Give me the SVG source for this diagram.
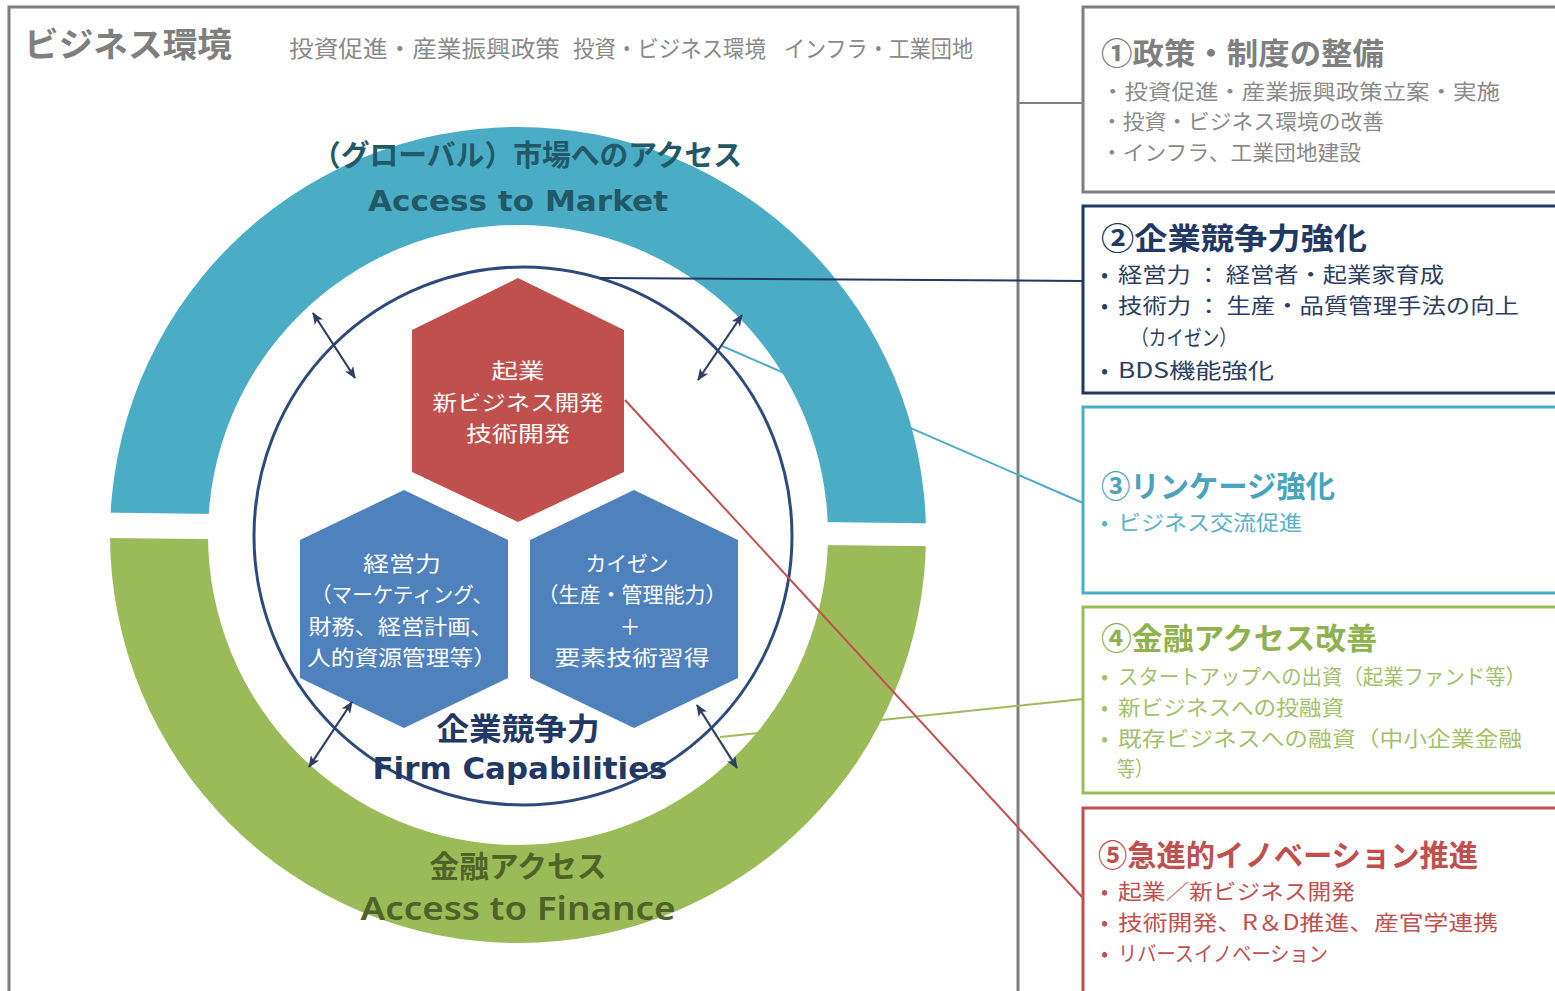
<svg xmlns="http://www.w3.org/2000/svg" width="1555" height="991" viewBox="0 0 1555 991">
<style>
.jp{font-family:"Noto Sans CJK JP","Noto Sans",sans-serif}
.b{font-weight:bold}
.hx{font-family:"Noto Sans CJK JP",sans-serif;font-size:21px;fill:#ffffff;text-anchor:middle}
.mid{text-anchor:middle}
.conn{fill:none;stroke-width:2}
.arr{fill:none;stroke:#2f3f5f;stroke-width:2.2;marker-start:url(#ah);marker-end:url(#ah)}
.box{fill:#ffffff;stroke-width:3}
.t1{font-family:"Noto Sans CJK JP",sans-serif;font-size:21px}
</style>
<defs>
<marker id="ah" viewBox="0 0 12 10" markerWidth="12" markerHeight="10" refX="11" refY="5" orient="auto-start-reverse" markerUnits="userSpaceOnUse">
<path d="M0,0 L12,5 L0,10 L3,5 z" fill="#2f3f5f"/>
</marker>
<clipPath id="clipTop"><polygon points="0,0 1100,0 1100,525.6 0,511.2"/></clipPath>
<clipPath id="clipBot"><polygon points="0,536.9 1100,547.7 1100,1000 0,1000"/></clipPath>
<path id="ring" d="M110 535 A408 408 0 1 0 926 535 A408 408 0 1 0 110 535 Z M208 535 A310 310 0 1 0 828 535 A310 310 0 1 0 208 535 Z" fill-rule="evenodd"/>
</defs>
<rect width="1555" height="991" fill="#ffffff"/>

<g id="business-environment">
<rect x="9" y="7" width="1009" height="1000" fill="#ffffff" stroke="#7f7f7f" stroke-width="3"/>
<text x="24" y="57" class="jp b" font-size="34" fill="#7f7f7f" textLength="208" lengthAdjust="spacingAndGlyphs">ビジネス環境</text>
<text x="289" y="57" class="jp" font-size="23" fill="#8a8a8a" textLength="271" lengthAdjust="spacingAndGlyphs">投資促進・産業振興政策</text>
<text x="573" y="57" class="jp" font-size="23" fill="#8a8a8a" textLength="193" lengthAdjust="spacingAndGlyphs">投資・ビジネス環境</text>
<text x="784" y="57" class="jp" font-size="23" fill="#8a8a8a" textLength="189" lengthAdjust="spacingAndGlyphs">インフラ・工業団地</text>
</g>

<g id="connectors-under">
<line class="conn" x1="722" y1="346" x2="1083" y2="503" stroke="#4bacc6"/>
<line class="conn" x1="720" y1="737" x2="1083" y2="699" stroke="#9bbb59"/>
</g>

<g id="market-ring">
<use href="#ring" fill="#4bacc6" clip-path="url(#clipTop)"/>
</g>
<g id="finance-ring">
<use href="#ring" fill="#9bbb59" clip-path="url(#clipBot)"/>
</g>

<g id="firm-circle">
<circle cx="523" cy="536" r="269" fill="none" stroke="#2e4a7c" stroke-width="3"/>
</g>

<g id="hex-innovation">
<polygon points="518,278 624,330 624,472 518,522 412,472 412,330" fill="#c0504d"/>
<text class="hx" x="518" y="378" textLength="53" lengthAdjust="spacingAndGlyphs">起業</text>
<text class="hx" x="518" y="410" textLength="171" lengthAdjust="spacingAndGlyphs">新ビジネス開発</text>
<text class="hx" x="518" y="441" textLength="104" lengthAdjust="spacingAndGlyphs">技術開発</text>
</g>

<g id="hex-management">
<polygon points="404,490 508,540 508,678 404,728 300,678 300,540" fill="#4f81bd"/>
<text class="hx" x="402" y="571" textLength="78" lengthAdjust="spacingAndGlyphs">経営力</text>
<text class="hx" x="402" y="602" textLength="182" lengthAdjust="spacingAndGlyphs">（マーケティング、</text>
<text class="hx" x="401" y="634" textLength="185" lengthAdjust="spacingAndGlyphs">財務、経営計画、</text>
<text class="hx" x="402" y="665" textLength="190" lengthAdjust="spacingAndGlyphs">人的資源管理等）</text>
</g>

<g id="hex-kaizen">
<polygon points="634,490 738,540 738,678 634,728 530,678 530,540" fill="#4f81bd"/>
<text class="hx" x="627" y="571" textLength="83" lengthAdjust="spacingAndGlyphs">カイゼン</text>
<text class="hx" x="632" y="602" textLength="189" lengthAdjust="spacingAndGlyphs">（生産・管理能力）</text>
<text class="hx" x="630" y="634">＋</text>
<text class="hx" x="632" y="665" textLength="155" lengthAdjust="spacingAndGlyphs">要素技術習得</text>
</g>

<g id="connectors">
<line class="conn" x1="1018" y1="103" x2="1083" y2="103" stroke="#7f7f7f"/>
<line class="conn" x1="600" y1="278" x2="1083" y2="281" stroke="#1f3864"/>
<line class="conn" x1="625" y1="400" x2="1083" y2="898" stroke="#c0504d"/>
<line class="arr" x1="313" y1="313" x2="355" y2="378"/>
<line class="arr" x1="742" y1="315" x2="698" y2="380"/>
<line class="arr" x1="352" y1="702" x2="309" y2="767"/>
<line class="arr" x1="697" y1="705" x2="737" y2="768"/>
</g>

<g id="ring-labels">
<text x="527" y="166" class="jp b mid" font-size="29" fill="#215968" textLength="430" lengthAdjust="spacingAndGlyphs">（グローバル）市場へのアクセス</text>
<text x="518" y="211" class="b mid" font-family="DejaVu Sans, sans-serif" font-size="29" fill="#215968" textLength="300" lengthAdjust="spacingAndGlyphs">Access to Market</text>
<text x="518" y="740" class="jp b mid" font-size="31" fill="#1f3864" textLength="163" lengthAdjust="spacingAndGlyphs">企業競争力</text>
<text x="520" y="779" class="b mid" font-family="DejaVu Sans, sans-serif" font-size="30" fill="#1f3864" textLength="295" lengthAdjust="spacingAndGlyphs">Firm Capabilities</text>
<text x="518" y="877" class="jp b mid" font-size="30" fill="#4f6228" textLength="177" lengthAdjust="spacingAndGlyphs">金融アクセス</text>
<text x="518" y="920" class="mid" font-family="Noto Sans, sans-serif" font-weight="600" font-size="32" fill="#4f6228" textLength="315" lengthAdjust="spacingAndGlyphs">Access to Finance</text>
</g>

<g id="box-policy">
<rect class="box" x="1083" y="7" width="480" height="185" stroke="#7f7f7f"/>
<text x="1101" y="64" class="jp b" font-size="30" fill="#7f7f7f" textLength="283" lengthAdjust="spacingAndGlyphs">①政策・制度の整備</text>
<text x="1101" y="99" class="t1" fill="#8a8a8a" textLength="399" lengthAdjust="spacingAndGlyphs">・投資促進・産業振興政策立案・実施</text>
<text x="1101" y="129" class="t1" fill="#8a8a8a" textLength="283" lengthAdjust="spacingAndGlyphs">・投資・ビジネス環境の改善</text>
<text x="1101" y="160" class="t1" fill="#8a8a8a" textLength="260" lengthAdjust="spacingAndGlyphs">・インフラ、工業団地建設</text>
</g>

<g id="box-firm">
<rect class="box" x="1083" y="206" width="480" height="187" stroke="#1f3864"/>
<text x="1101" y="249" class="jp b" font-size="30" fill="#1f3864" textLength="266" lengthAdjust="spacingAndGlyphs">②企業競争力強化</text>
<text x="1101" y="282" class="t1" fill="#2c3e63">•</text>
<text x="1118" y="282" class="t1" fill="#2c3e63" textLength="326" lengthAdjust="spacingAndGlyphs">経営力 ： 経営者・起業家育成</text>
<text x="1101" y="313" class="t1" fill="#2c3e63">•</text>
<text x="1118" y="313" class="t1" fill="#2c3e63" textLength="401" lengthAdjust="spacingAndGlyphs">技術力 ： 生産・品質管理手法の向上</text>
<text x="1131" y="345" class="t1" fill="#2c3e63" textLength="106" lengthAdjust="spacingAndGlyphs">（カイゼン）</text>
<text x="1101" y="378" class="t1" fill="#2c3e63">•</text>
<text x="1118" y="378" class="t1" fill="#2c3e63" textLength="156" lengthAdjust="spacingAndGlyphs">BDS機能強化</text>
</g>

<g id="box-linkage">
<rect class="box" x="1083" y="407" width="480" height="186" stroke="#4bacc6"/>
<text x="1101" y="497" class="jp b" font-size="30" fill="#4aa3bd" textLength="234" lengthAdjust="spacingAndGlyphs">③リンケージ強化</text>
<text x="1101" y="530" class="t1" fill="#5ab0c8">•</text>
<text x="1118" y="530" class="t1" fill="#5ab0c8" textLength="184" lengthAdjust="spacingAndGlyphs">ビジネス交流促進</text>
</g>

<g id="box-finance">
<rect class="box" x="1083" y="607" width="480" height="186" stroke="#9bbb59"/>
<text x="1101" y="649" class="jp b" font-size="30" fill="#8fb24f" textLength="276" lengthAdjust="spacingAndGlyphs">④金融アクセス改善</text>
<text x="1101" y="684" class="t1" fill="#a3c16a">•</text>
<text x="1118" y="684" class="t1" fill="#a3c16a" textLength="408" lengthAdjust="spacingAndGlyphs">スタートアップへの出資（起業ファンド等）</text>
<text x="1101" y="715" class="t1" fill="#a3c16a">•</text>
<text x="1118" y="715" class="t1" fill="#a3c16a" textLength="226" lengthAdjust="spacingAndGlyphs">新ビジネスへの投融資</text>
<text x="1101" y="746" class="t1" fill="#a3c16a">•</text>
<text x="1118" y="746" class="t1" fill="#a3c16a" textLength="404" lengthAdjust="spacingAndGlyphs">既存ビジネスへの融資（中小企業金融</text>
<text x="1117" y="776" class="t1" fill="#a3c16a" textLength="36" lengthAdjust="spacingAndGlyphs">等）</text>
</g>

<g id="box-innovation">
<rect class="box" x="1083" y="808" width="480" height="200" stroke="#c0504d"/>
<text x="1098" y="866" class="jp b" font-size="30" fill="#c0504d" textLength="380" lengthAdjust="spacingAndGlyphs">⑤急進的イノベーション推進</text>
<text x="1101" y="899" class="t1" fill="#c0504d">•</text>
<text x="1118" y="899" class="t1" fill="#c0504d" textLength="237" lengthAdjust="spacingAndGlyphs">起業／新ビジネス開発</text>
<text x="1101" y="930" class="t1" fill="#c0504d">•</text>
<text x="1118" y="930" class="t1" fill="#c0504d" textLength="380" lengthAdjust="spacingAndGlyphs">技術開発、R＆D推進、産官学連携</text>
<text x="1101" y="961" class="t1" fill="#c0504d">•</text>
<text x="1118" y="961" class="t1" fill="#c0504d" textLength="210" lengthAdjust="spacingAndGlyphs">リバースイノベーション</text>
</g>
</svg>
